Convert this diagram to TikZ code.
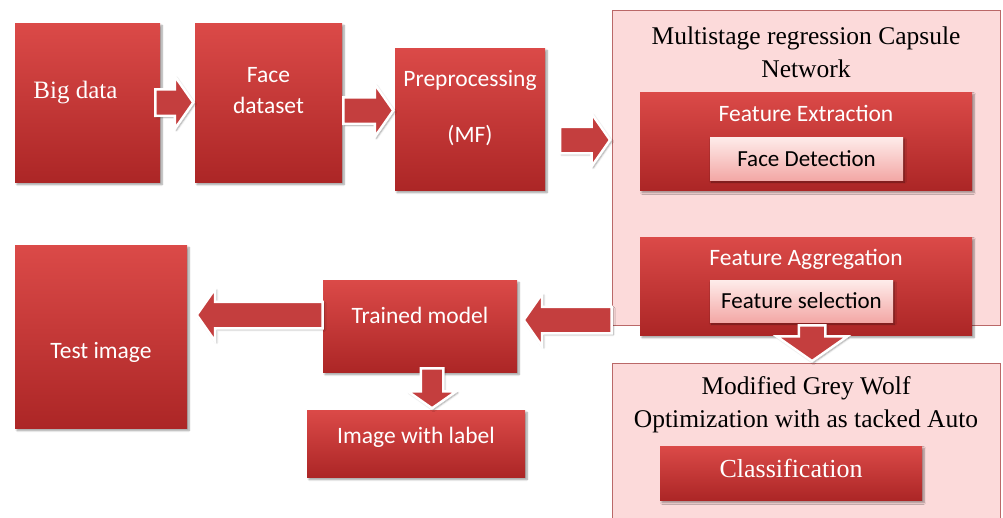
\documentclass[tikz,border=0pt]{standalone}
\usepackage{fontspec}
\setmainfont{Carlito}
\newfontfamily\serifA{Liberation Serif}
\usetikzlibrary{shapes.arrows,shadows.blur,calc}
\definecolor{rtop}{RGB}{219,74,72}
\definecolor{rbot}{RGB}{172,38,38}
\definecolor{pinkA}{RGB}{252,218,218}
\definecolor{pinkedge}{RGB}{186,104,104}
\definecolor{inTop}{RGB}{254,236,234}
\definecolor{inBot}{RGB}{243,168,166}
\definecolor{arred}{RGB}{196,62,62}
\begin{document}
\begin{tikzpicture}[x=1pt,y=-1pt,
  redbox/.style={draw=none, top color=rtop, bottom color=rbot, inner sep=0pt,
    blur shadow={shadow xshift=2pt,shadow yshift=-2.5pt,shadow blur steps=6}},
  pinkbox/.style={draw=pinkedge, line width=0.8pt, fill=pinkA, inner sep=0pt},
  inbox/.style={draw=none, top color=inTop, bottom color=inBot, inner sep=0pt,
    text=black, font=\fontsize{23}{27}\selectfont,
    blur shadow={shadow xshift=1.5pt,shadow yshift=-2pt,shadow blur steps=5}},
  lab/.style={text=white, font=\fontsize{23.5}{27}\selectfont, align=center},
  slab/.style={text=white, font=\serifA\fontsize{25}{29}\selectfont, align=center},
  title/.style={text=black, font=\serifA\fontsize{25.5}{33}\selectfont, align=center},
  barrow/.style={single arrow, fill=arred, draw=white, line width=2.5pt,
    inner sep=12pt, single arrow head extend=13pt, single arrow tip angle=110,
    single arrow head indent=0pt,
    blur shadow={shadow xshift=1.5pt,shadow yshift=-1.5pt,shadow blur steps=5}},
]
\useasboundingbox (0,0) rectangle (1003,517);

% top row
\node[redbox, minimum width=145pt, minimum height=159pt,
  label={[slab, name=bigt, xshift=-12pt, yshift=10pt]center:Big data}] (big) at (87.5,102.5) {};
\node[redbox, minimum width=147pt, minimum height=159pt,
  label={[lab, name=facet, yshift=12pt, font=\fontsize{23.5}{31}\selectfont]center:Face\\dataset}] (face) at (268.5,102.5) {};
\node[redbox, minimum width=150pt, minimum height=142pt,
  label={[lab, name=pret, yshift=11pt, font=\fontsize{23.5}{56}\selectfont]center:Preprocessing\\(MF)}] (pre) at (470,119) {};

% capsule network container
\node[pinkbox, minimum width=388pt, minimum height=315pt,
  label={[title, name=capt, anchor=north, yshift=-14pt]north:Multistage regression Capsule\\Network}] (capsule) at (806,167.5) {};
\node[redbox, minimum width=332pt, minimum height=98pt,
  label={[lab, name=fet, yshift=28pt]center:Feature Extraction}] (fe) at (806,141) {};
\node[inbox, minimum width=193pt, minimum height=43pt] (fd) at (806.5,158.5) {Face Detection};
\node[redbox, minimum width=332pt, minimum height=98pt,
  label={[lab, name=fat, yshift=27pt]center:Feature Aggregation}] (fa) at (806,286) {};
\node[inbox, minimum width=183pt, minimum height=42pt] (fs) at (801.5,301) {Feature selection};

% grey wolf container
\node[pinkbox, minimum width=388pt, minimum height=157pt,
  label={[title, name=mgwt, anchor=north, yshift=-10pt]north:Modified Grey Wolf\\Optimization with as tacked Auto}] (mgw) at (806,441.5) {};
\node[redbox, minimum width=262pt, minimum height=54pt,
  label={[slab, name=clst, yshift=5pt, font=\serifA\fontsize{26}{30}\selectfont]center:Classification}] (cls) at (791,473) {};

% bottom left
\node[redbox, minimum width=172pt, minimum height=183pt,
  label={[lab, name=testt, yshift=-16pt]center:Test image}] (test) at (101,336.5) {};
\node[redbox, minimum width=194pt, minimum height=92pt,
  label={[lab, name=trt, yshift=11pt]center:Trained model}] (trained) at (420,326) {};
\node[redbox, minimum width=218pt, minimum height=67pt,
  label={[lab, name=iwlt, yshift=6pt]center:Image with label}] (iwl) at (416,443.5) {};

% block arrows
\path (big.east) -- (face.west)
  node[barrow, pos=1, anchor=tip, minimum height=38pt] (a1) {};
\path ([yshift=-8pt]face.east) -- ([yshift=-8pt]face.east -| pre.west)
  node[barrow, pos=1, anchor=tip, minimum height=50pt] (a2) {};
\path ([yshift=-21pt]pre.east) -- ([yshift=-21pt]pre.east -| capsule.west)
  node[barrow, pos=1, anchor=tip, minimum height=50pt] (a3) {};
\path ([yshift=6pt]trained.east -| capsule.west) -- ([yshift=6pt,xshift=5pt]trained.east)
  node[barrow, pos=1, anchor=tip, shape border rotate=180, minimum height=88pt] (a4) {};
\path ([yshift=11pt]trained.west) -- ([yshift=11pt,xshift=8pt]trained.west -| test.east)
  node[barrow, pos=1, anchor=tip, shape border rotate=180, minimum height=126pt] (a5) {};
\path ([xshift=12pt]trained.south) -- ([xshift=12pt]trained.south |- iwl.north)
  node[barrow, pos=1, anchor=tip, shape border rotate=270, minimum height=40pt,
    inner sep=10pt] (a6) {};
\path ([xshift=6pt]fa.south) -- ([xshift=6pt]fa.south |- mgw.north)
  node[barrow, pos=1, anchor=tip, shape border rotate=270, minimum height=32pt,
    single arrow head extend=22pt] (a7) {};
\end{tikzpicture}
\end{document}
